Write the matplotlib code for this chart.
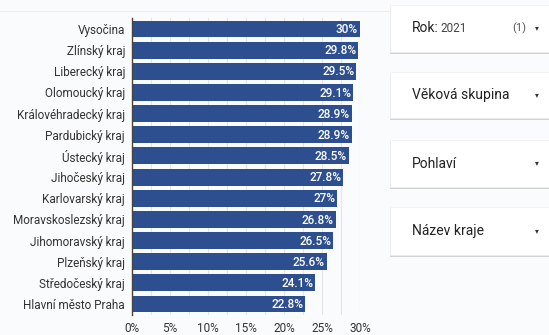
import matplotlib.pyplot as plt
from matplotlib.patches import Rectangle
from matplotlib.ticker import MultipleLocator, FuncFormatter

plt.rcParams['font.family'] = ['Roboto', 'DejaVu Sans']

# data
regions = ['Vysočina', 'Zlínský kraj', 'Liberecký kraj', 'Olomoucký kraj',
           'Královéhradecký kraj', 'Pardubický kraj', 'Ústecký kraj',
           'Jihočeský kraj', 'Karlovarský kraj', 'Moravskoslezský kraj',
           'Jihomoravský kraj', 'Plzeňský kraj', 'Středočeský kraj',
           'Hlavní město Praha']
values = [30, 29.8, 29.5, 29.1, 28.9, 28.9, 28.5, 27.8, 27, 26.8, 26.5,
          25.6, 24.1, 22.8]
filters = ['Věková skupina', 'Pohlaví', 'Název kraje']

W, H = 549, 335
fig = plt.figure(figsize=(W / 100, H / 100), dpi=100)
fig.patch.set_facecolor('#fafbfc')


def fx(x):
    return x / W


def fy(y):
    return 1 - y / H


# chart area
ax = fig.add_axes([fx(132), fy(314.6), fx(360) - fx(132), (314.6 - 18.4) / H])
ax.set_facecolor('none')
pos = list(range(len(regions)))
ax.barh(pos, values, height=0.8, color='#2e4f8f', zorder=2)
ax.set_ylim(len(regions) - 0.5, -0.5)
ax.set_xlim(0, 30)
ax.set_yticks(pos)
ax.set_yticklabels(regions, fontsize=8.5, color='#333333')
ax.xaxis.set_major_locator(MultipleLocator(5))
ax.xaxis.set_minor_locator(MultipleLocator(2.5))
ax.xaxis.set_major_formatter(FuncFormatter(lambda v, p: f'{v:.0f}%'))
ax.tick_params(axis='x', which='both', length=0, labelsize=8.5,
               labelcolor='#333333', pad=5)
ax.tick_params(axis='y', length=0, pad=5)
ax.grid(axis='x', which='both', color='#e3e5e8', lw=0.8, zorder=0)
for s in ['top', 'right', 'bottom']:
    ax.spines[s].set_visible(False)
ax.spines['left'].set_color('#444444')
ax.spines['left'].set_linewidth(1)
ax.spines['left'].set_zorder(3)

for i, v in enumerate(values):
    lab = f'{v:g}%'
    ax.text(v - 0.25, i + 0.03, lab, ha='right', va='center', color='white',
            fontsize=8.5, fontweight='medium', zorder=3)

# faint separator line
fig.add_artist(plt.Line2D([0, fx(390)], [fy(11), fy(11)], color='#eceef1', lw=0.8))

# filter cards
cards = [(5, 52), (72, 118), (140, 187), (207, 255)]
for k, (y0, y1) in enumerate(cards):
    shadow = Rectangle((fx(390), fy(y1 + 1.5)), fx(W - 390), (y1 - y0) / H,
                       transform=fig.transFigure, facecolor='#cfd1d4',
                       edgecolor='none')
    fig.add_artist(shadow)
    card = Rectangle((fx(390), fy(y1)), fx(W - 390), (y1 - y0) / H,
                     transform=fig.transFigure, facecolor='white',
                     edgecolor='#eeeeee', lw=0.5)
    fig.add_artist(card)
    ym = fy((y0 + y1) / 2)
    fig.text(fx(537), ym, '▾', ha='center', va='center', fontsize=5.5,
             color='#333333')
    if k == 0:
        t = fig.text(fx(412), ym, 'Rok:', ha='left', va='center', fontsize=10,
                     color='#222222')
        fig.canvas.draw()
        bb = t.get_window_extent()
        fig.text(bb.x1 / W + fx(2), ym, '2021', ha='left', va='center',
                 fontsize=8.5, color='#444444')
        fig.text(fx(519), ym, '(1)', ha='center', va='center', fontsize=8,
                 color='#555555')
    else:
        fig.text(fx(412), ym, filters[k - 1], ha='left', va='center',
                 fontsize=10, color='#222222')

fig.savefig('out.png', dpi=100, facecolor=fig.get_facecolor())
